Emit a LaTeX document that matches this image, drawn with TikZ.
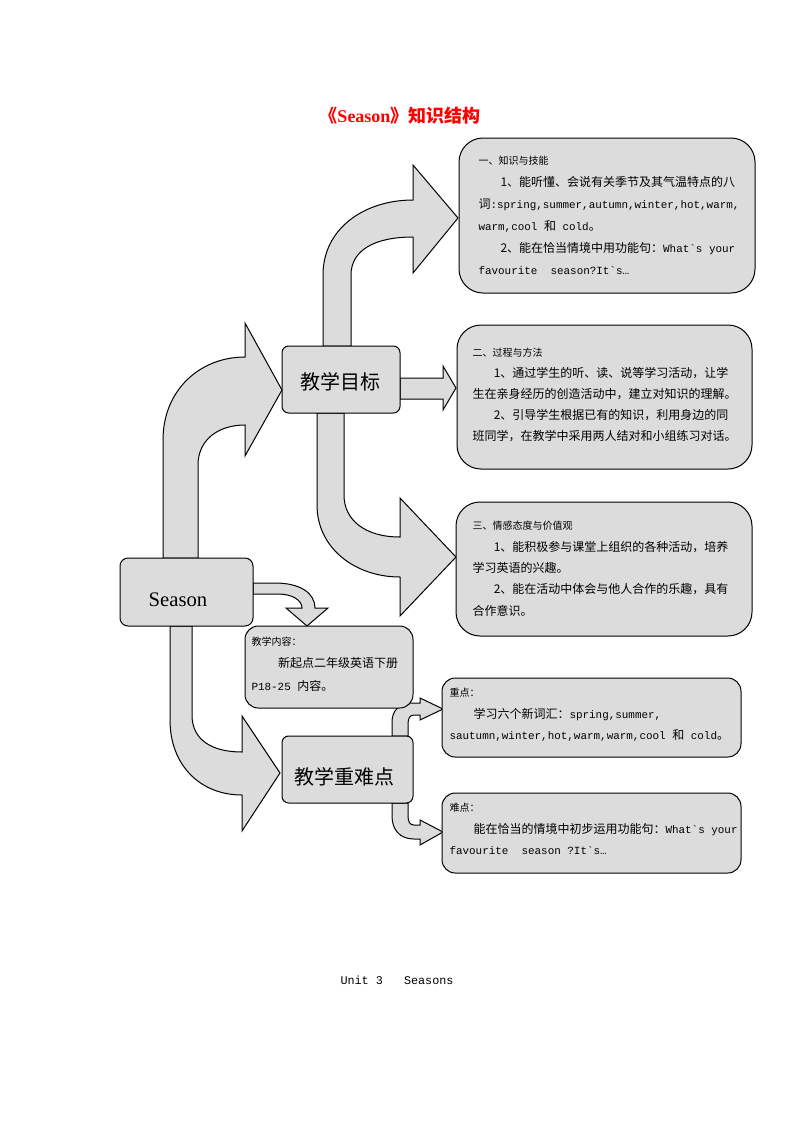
\documentclass[tikz,border=0pt]{standalone}
\usepackage{fontspec}
\setmainfont{Noto Sans CJK SC}
\setmonofont{Liberation Mono}[Scale=0.91]
\newfontfamily\serifen{Liberation Serif}

\definecolor{boxgray}{RGB}{220,220,220}
\tikzset{every picture/.style={line width=0.75pt}}
\tikzset{
	panel/.style={draw=black, fill=boxgray},
	blockarrow/.style={draw=black, fill=boxgray, line join=miter},
	bodytext/.style={anchor=north west, inner sep=0pt, align=left},
	headfont/.style={font=\fontsize{7.5}{9}\selectfont}}
\newcommand{\hd}[1]{{\fontsize{7.5}{9}\selectfont #1}}

\begin{document}
\begin{tikzpicture}[x=0.75pt,y=0.75pt,yscale=-1,xscale=1]
	\useasboundingbox (0,0) rectangle (793,1122);

	%Bent Arrow: Season -> goals
	\draw  [blockarrow] (163,558) -- (163,440) .. controls (163,390) and (200,357) .. (245,357) -- (245,323) -- (282,390) -- (245,456) -- (245,425) .. controls (218,425) and (198,440) .. (198,465) -- (198,558) -- cycle ;
	%Bent Arrow: goals -> box one
	\draw  [blockarrow] (323,346) -- (323,275) .. controls (323,228) and (365,200) .. (413,200) -- (413,165) -- (458,218) -- (413,273) -- (413,237) .. controls (375,237) and (351,250) .. (351,275) -- (351,346) -- cycle ;
	%Right Arrow: goals -> box two
	\draw  [blockarrow] (400,378) -- (443,378) -- (443,366) -- (456,388) -- (443,410) -- (443,399) -- (400,399) -- cycle ;
	%Bent Arrow: goals -> box three
	\draw  [blockarrow] (317,413) -- (317,505) .. controls (317,548) and (355,577) .. (400,577) -- (400,616) -- (456,557) -- (400,498) -- (400,537) .. controls (365,537) and (344,520) .. (344,495) -- (344,413) -- cycle ;
	%Bent Arrow: Season -> content
	\draw  [blockarrow] (253,583) -- (275,583) .. controls (300,583) and (315,593) .. (315,608) -- (328,608) -- (307,626) -- (286,608) -- (302,608) .. controls (302,600) and (292,594) .. (278,594) -- (253,594) -- cycle ;
	%Bent Arrow: Season -> key points
	\draw  [blockarrow] (170,626) -- (170,720) .. controls (170,765) and (200,795) .. (242,795) -- (242,831) -- (280,773) -- (242,716) -- (242,752) .. controls (212,752) and (192,740) .. (192,715) -- (192,626) -- cycle ;
	%Bent Arrow: key points -> focus
	\draw  [blockarrow] (392,736) -- (392,722) .. controls (392,710) and (400,703) .. (412,703) -- (420,703) -- (420,698) -- (443,709) -- (420,720) -- (420,715) -- (414,715) .. controls (410,715) and (408,718) .. (408,724) -- (408,736) -- cycle ;
	%Bent Arrow: key points -> difficulty
	\draw  [blockarrow] (392,803) -- (392,816) .. controls (392,830) and (400,839) .. (414,839) -- (420,839) -- (420,845) -- (443,832) -- (420,820) -- (420,825) -- (414,825) .. controls (410,825) and (408,822) .. (408,816) -- (408,803) -- cycle ;

	%Rounded Rectangles
	\draw  [panel, rounded corners=18pt] (459,138) rectangle (755,293) ;
	\draw  [panel, rounded corners=18pt] (457,325) rectangle (752,469) ;
	\draw  [panel, rounded corners=18pt] (456,502) rectangle (752,636) ;
	\draw  [panel, rounded corners=6pt] (120,558) rectangle (253,626) ;
	\draw  [panel, rounded corners=5pt] (282,346) rectangle (400,413) ;
	\draw  [panel, rounded corners=10pt] (245,626) rectangle (413,708) ;
	\draw  [panel, rounded corners=5pt] (282,736) rectangle (413,803) ;
	\draw  [panel, rounded corners=10pt] (442,678) rectangle (741,757) ;
	\draw  [panel, rounded corners=10pt] (442,793) rectangle (741,873) ;

	% Text Node
	\draw (400,116) node [text=red, font=\fontsize{13.5}{16}\selectfont\bfseries] (title) {《{\serifen Season}》知识结构};
	% Text Node
	\draw (178,600) node [font=\fontsize{15.5}{18}\serifen] (season) {Season};
	% Text Node
	\draw (340,382) node [font=\fontsize{15}{18}\selectfont] (goals) {教学目标};
	% Text Node
	\draw (344,777) node [font=\fontsize{15}{18}\selectfont] (keys) {教学重难点};
	% Text Node
	\draw (478,156) node [bodytext, font=\fontsize{9}{16.5}\selectfont] (skills) {\hd{一、知识与技能}\\
		\hspace*{16.5pt}1、能听懂、会说有关季节及其气温特点的八\\
		词{\ttfamily :spring,summer,autumn,winter,hot,warm,}\\
		{\ttfamily warm,cool }和{\ttfamily\ cold}。\\
		\hspace*{16.5pt}2、能在恰当情境中用功能句：{\ttfamily What`s your}\\
		{\ttfamily favourite\ \ season?It`s…}};
	% Text Node
	\draw (472,348) node [bodytext, font=\fontsize{9}{15.75}\selectfont] (process) {\hd{二、过程与方法}\\
		\hspace*{16pt}1、通过学生的听、读、说等学习活动，让学\\
		生在亲身经历的创造活动中，建立对知识的理解。\\
		\hspace*{16pt}2、引导学生根据已有的知识，利用身边的同\\
		班同学，在教学中采用两人结对和小组练习对话。};
	% Text Node
	\draw (472,521) node [bodytext, font=\fontsize{9}{16}\selectfont] (attitude) {\hd{三、情感态度与价值观}\\
		\hspace*{16pt}1、能积极参与课堂上组织的各种活动，培养\\
		学习英语的兴趣。\\
		\hspace*{16pt}2、能在活动中体会与他人合作的乐趣，具有\\
		合作意识。};
	% Text Node
	\draw (251,636) node [bodytext, font=\fontsize{9}{17}\selectfont] (content) {\hd{教学内容：}\\
		\hspace*{20pt}新起点二年级英语下册\\
		{\ttfamily P18-25 }内容。};
	% Text Node
	\draw (449,688) node [bodytext, font=\fontsize{9}{16}\selectfont] (focus) {\hd{重点：}\\
		\hspace*{18pt}学习六个新词汇：{\ttfamily spring,summer,}\\
		{\ttfamily sautumn,winter,hot,warm,warm,cool }和{\ttfamily\ cold}。};
	% Text Node
	\draw (449,803) node [bodytext, font=\fontsize{9}{16}\selectfont] (hard) {\hd{难点：}\\
		\hspace*{18pt}能在恰当的情境中初步运用功能句：{\ttfamily What`s your}\\
		{\ttfamily favourite\ \ season ?It`s…}};
	% Text Node
	\draw (397,980) node [font=\fontsize{9.7}{12}\ttfamily] (unit) {Unit 3\ \ \ Seasons};

\end{tikzpicture}
\end{document}
